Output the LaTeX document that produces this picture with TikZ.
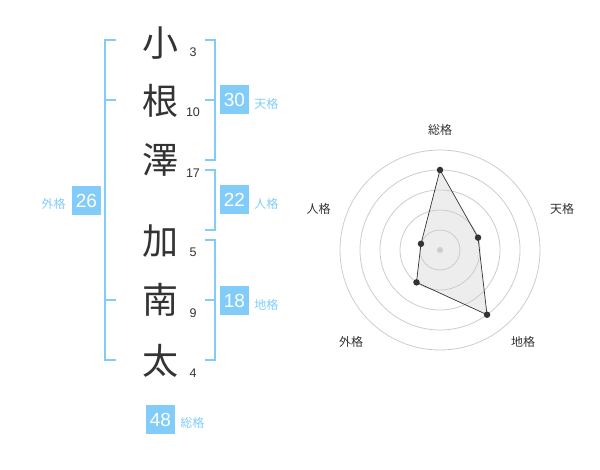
\documentclass[tikz,border=0pt]{standalone}
\usepackage{fontspec}
\setmainfont{Liberation Sans}
\newfontfamily\jpfont{Noto Sans CJK JP}
\usetikzlibrary{positioning}
\definecolor{CSky}{HTML}{82CCFA}
\definecolor{CInk}{HTML}{333333}
\definecolor{CRing}{HTML}{CCCCCC}
\definecolor{CShade}{HTML}{EDEDED}

\tikzset{
  kanji/.style={font=\jpfont\fontsize{36}{36}\selectfont, text=CInk, inner sep=0pt, text height=31.7pt, text depth=4.3pt},
  strokes/.style={font=\fontsize{12.5}{13}\selectfont, text=CInk, inner sep=0pt},
  scorebox/.style={fill=CSky, text=white, font=\fontsize{19}{19}\selectfont, minimum width=29pt, minimum height=29pt, inner sep=0pt},
  kaku/.style={font=\jpfont\fontsize{12}{12}\selectfont, text=CSky, inner sep=0pt},
  bracket/.style={draw=CSky, line width=2pt},
  axislabel/.style={font=\jpfont\fontsize{12}{12}\selectfont, text=CInk, inner sep=0pt},
  ring/.style={draw=CRing, line width=0.8pt},
  dot/.style={circle, fill=CInk, inner sep=0pt, minimum size=6.5pt}
}

\begin{document}
\begin{tikzpicture}[x=1pt, y=-1pt]
    \useasboundingbox (0,0) rectangle (600,470);

    % Name, one character a row
    \node[kanji] (k1) at (160,43) {小};
    \node[kanji] (k2) at (160,101) {根};
    \node[kanji] (k3) at (160,160) {澤};
    \node[kanji] (k4) at (160,241) {加};
    \node[kanji] (k5) at (160,300) {南};
    \node[kanji] (k6) at (160,361) {太};

    % Stroke counts
    \node[strokes] (s1) at (193,52.7) {3};
    \node[strokes] (s2) at (193,112.7) {10};
    \node[strokes] (s3) at (193,173.3) {17};
    \node[strokes] (s4) at (193,252.7) {5};
    \node[strokes] (s5) at (193,312.7) {9};
    \node[strokes] (s6) at (193,373.3) {4};

    % Brackets
    \draw[bracket] (116,40) -- (105,40) -- (105,360) -- (116,360);
    \draw[bracket] (105,100) -- (116,100);
    \draw[bracket] (105,300) -- (116,300);
    \draw[bracket] (205,40) -- (215,40) -- (215,160) -- (205,160);
    \draw[bracket] (205,100) -- (215,100);
    \draw[bracket] (205,170) -- (215,170) -- (215,230) -- (205,230);
    \draw[bracket] (205,240) -- (215,240) -- (215,360) -- (205,360);
    \draw[bracket] (205,300) -- (215,300);

    % Scores
    \node[scorebox] (ten) at (234.5,100) {30};
    \node[kaku, right=5pt of ten, yshift=-4pt] (ten-l) {天格};
    \node[scorebox] (jin) at (234.5,200) {22};
    \node[kaku, right=5pt of jin, yshift=-4pt] (jin-l) {人格};
    \node[scorebox] (chi) at (234.5,300.5) {18};
    \node[kaku, right=5pt of chi, yshift=-4pt] (chi-l) {地格};
    \node[scorebox] (gai) at (86.5,200.5) {26};
    \node[kaku, left=6pt of gai, yshift=-3pt] (gai-l) {外格};
    \node[scorebox] (sou) at (160.5,419.5) {48};
    \node[kaku, right=5pt of sou, yshift=-3pt] (sou-l) {総格};

    % Radar chart
    \begin{scope}[shift={(440,250)}]
        \coordinate (p-sou) at (0,-80);
        \coordinate (p-ten) at (38.04,-12.36);
        \coordinate (p-chi) at (47.02,64.72);
        \coordinate (p-gai) at (-23.51,32.36);
        \coordinate (p-jin) at (-19.02,-6.18);
        \fill[CShade] (p-sou) -- (p-ten) -- (p-chi) -- (p-gai) -- (p-jin) -- cycle;
        \foreach \r in {20,40,...,100}
            \draw[ring] (0,0) circle (\r pt);
        \fill[CRing] (0,0) circle (3pt);
        \draw[CInk, line width=0.7pt] (p-sou) -- (p-ten) -- (p-chi) -- (p-gai) -- (p-jin) -- cycle;
        \foreach \p in {sou,ten,chi,gai,jin}
            \node[dot] (d-\p) at (p-\p) {};
        \node[axislabel] (a-sou) at (0,-120) {総格};
        \node[axislabel] (a-ten) at (122,-41) {天格};
        \node[axislabel] (a-chi) at (83,92) {地格};
        \node[axislabel] (a-gai) at (-89,92) {外格};
        \node[axislabel] (a-jin) at (-121.5,-41) {人格};
    \end{scope}
\end{tikzpicture}
\end{document}
